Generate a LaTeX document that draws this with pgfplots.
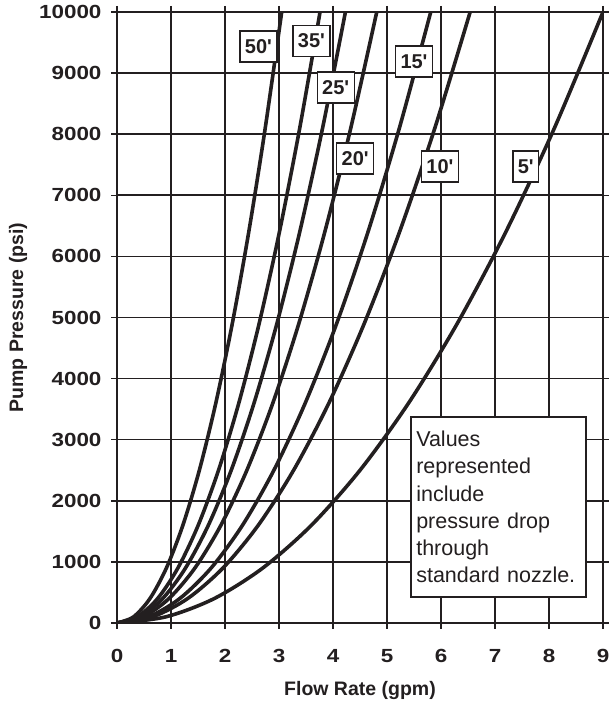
\documentclass[border=0pt]{standalone}
\usepackage{fontspec}
\setmainfont{Liberation Sans}
\newfontfamily\tickfont[FakeStretch=1.18]{Liberation Sans}
\usepackage{pgfplots}
\pgfplotsset{compat=1.18}
\definecolor{ink}{HTML}{231F20}
\tikzset{lbl/.style={draw=ink, fill=white, line width=1.4pt, inner xsep=5pt, minimum height=31pt, font=\bfseries\fontsize{20}{20}\selectfont, text=ink},
 crv/.style={draw=ink, solid, line width=3.6pt, smooth, mark=none}}
\begin{document}
\begin{tikzpicture}
\useasboundingbox (0,0) rectangle (609pt,703pt);
\begin{axis}[
 at={(117pt,80pt)}, anchor=south west,
 scale only axis, width=486pt, height=611pt,
 xmin=0, xmax=9, ymin=0, ymax=10000,
 xtick={0,1,...,9}, ytick={0,1000,...,10000},
 scaled y ticks=false,
 /pgf/number format/1000 sep={},
 /pgf/number format/assume math mode=true,
 tick align=outside, major tick length=6pt,
 tick style={line width=1.5pt, color=ink},
 grid=major, grid style={line width=1.6pt, color=ink},
 axis line style={line width=2.6pt, color=ink},
 ticklabel style={font=\tickfont\bfseries\fontsize{19}{19}\selectfont, text=ink},
 xticklabel shift=17pt, yticklabel shift=6pt,
 xlabel={Flow Rate (gpm)}, ylabel={Pump Pressure (psi)},
 label style={font=\bfseries\fontsize{19.5}{19.5}\selectfont, text=ink},
 xlabel style={at={(axis description cs:0.5,-0.1097)}, anchor=center},
 ylabel style={at={(axis description cs:-0.2037,0.5)}, anchor=center},
 clip=true,
]
% 50'
\addplot[crv] coordinates {(0,0) (0.305,100) (0.61,400) (0.915,900) (1.22,1600) (1.525,2500) (1.83,3600) (2.135,4900) (2.44,6400) (2.745,8100) (3.05,10000)};
% 35'
\addplot[crv] coordinates {(0,0) (0.376,100) (0.752,400) (1.128,900) (1.504,1600) (1.88,2500) (2.256,3600) (2.632,4900) (3.008,6400) (3.384,8100) (3.76,10000)};
% 25'
\addplot[crv] coordinates {(0,0) (0.423,100) (0.846,400) (1.269,900) (1.692,1600) (2.115,2500) (2.538,3600) (2.961,4900) (3.384,6400) (3.807,8100) (4.23,10000)};
% 20'
\addplot[crv] coordinates {(0,0) (0.481,100) (0.962,400) (1.443,900) (1.924,1600) (2.405,2500) (2.886,3600) (3.367,4900) (3.848,6400) (4.329,8100) (4.81,10000)};
% 15'
\addplot[crv] coordinates {(0,0) (0.581,100) (1.162,400) (1.743,900) (2.324,1600) (2.905,2500) (3.486,3600) (4.067,4900) (4.648,6400) (5.229,8100) (5.81,10000)};
% 10'
\addplot[crv] coordinates {(0,0) (0.654,100) (1.308,400) (1.962,900) (2.616,1600) (3.27,2500) (3.924,3600) (4.578,4900) (5.232,6400) (5.886,8100) (6.54,10000)};
% 5'
\addplot[crv] coordinates {(0,0) (0.9,100) (1.8,400) (2.7,900) (3.6,1600) (4.5,2500) (5.4,3600) (6.3,4900) (7.2,6400) (8.1,8100) (9.0,10000)};

\node[lbl] at (axis cs:2.62,9432) {50\textquotesingle};
\node[lbl] at (axis cs:3.60,9530) {35\textquotesingle};
\node[lbl] at (axis cs:4.05,8767) {25\textquotesingle};
\node[lbl] at (axis cs:5.50,9187) {15\textquotesingle};
\node[lbl] at (axis cs:4.41,7605) {20\textquotesingle};
\node[lbl] at (axis cs:5.98,7468) {10\textquotesingle};
\node[lbl] at (axis cs:7.57,7468) {5\textquotesingle};

\node[draw=ink, fill=white, line width=2.4pt, text width=165pt, align=left, inner xsep=5pt, minimum height=180pt, font=\fontsize{21.5}{27.3}\selectfont, text=ink] at (axis cs:7.07,1898) {Values\\represented\\include\\pressure drop\\through\\standard nozzle.};
\end{axis}
\end{tikzpicture}
\end{document}
